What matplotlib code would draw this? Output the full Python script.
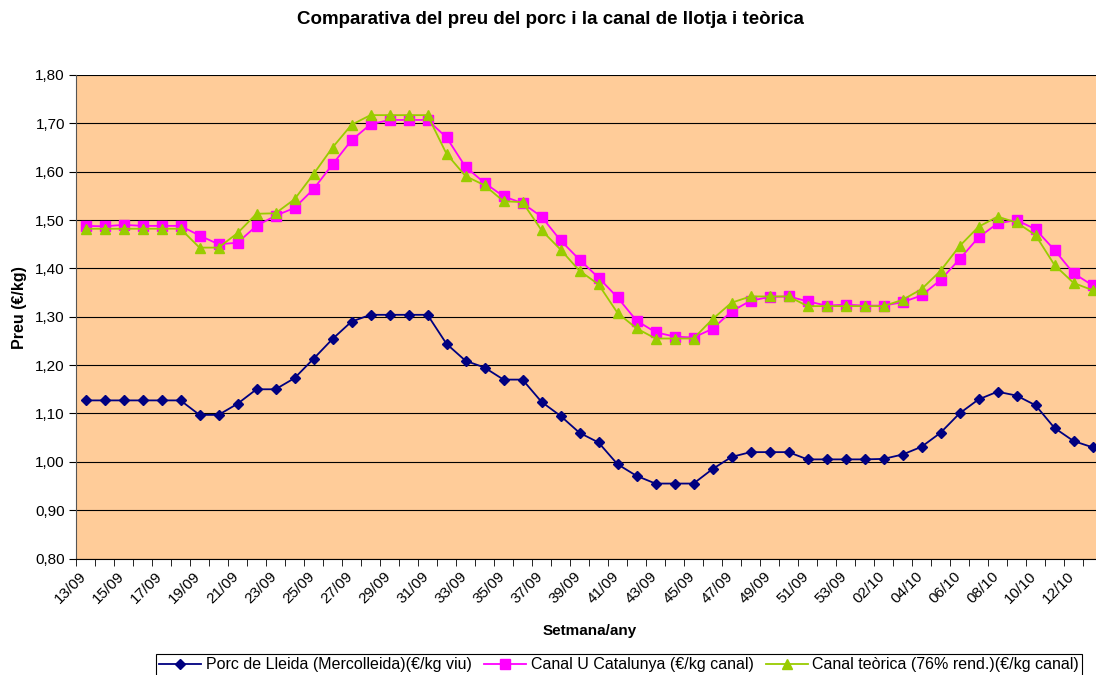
import numpy as np
import matplotlib
matplotlib.use("Agg")
from matplotlib import pyplot as plt
from matplotlib.ticker import FuncFormatter
from matplotlib.transforms import ScaledTranslation

plt.rcParams['font.family'] = ['Liberation Sans', 'DejaVu Sans']

# setmanes 13/09 .. 53/09 i 01/10 .. 13/10
weeks = [f"{w:02d}/09" for w in range(13, 54)] + [f"{w:02d}/10" for w in range(1, 14)]

porc_lleida = [1.127, 1.127, 1.127, 1.127, 1.127, 1.127, 1.097, 1.097, 1.120, 1.150,
               1.150, 1.173, 1.213, 1.254, 1.290, 1.304, 1.304, 1.304, 1.304, 1.244,
               1.209, 1.195, 1.170, 1.170, 1.124, 1.095, 1.060, 1.040, 0.995, 0.971,
               0.955, 0.955, 0.955, 0.985, 1.010, 1.020, 1.020, 1.020, 1.005, 1.005,
               1.005, 1.005, 1.006, 1.015, 1.031, 1.060, 1.100, 1.129, 1.145, 1.137,
               1.117, 1.070, 1.043, 1.030]

canal_cat = [1.488, 1.487, 1.490, 1.488, 1.488, 1.488, 1.468, 1.450, 1.453, 1.488,
             1.509, 1.525, 1.564, 1.615, 1.665, 1.698, 1.707, 1.707, 1.707, 1.671,
             1.610, 1.577, 1.549, 1.535, 1.507, 1.458, 1.418, 1.381, 1.340, 1.292,
             1.268, 1.259, 1.257, 1.275, 1.311, 1.333, 1.341, 1.342, 1.332, 1.323,
             1.325, 1.323, 1.323, 1.330, 1.344, 1.376, 1.419, 1.464, 1.493, 1.500,
             1.481, 1.438, 1.390, 1.365]

canal_teo = [1.482, 1.482, 1.482, 1.482, 1.482, 1.482, 1.443, 1.443, 1.473, 1.513,
             1.514, 1.543, 1.595, 1.650, 1.697, 1.717, 1.717, 1.717, 1.717, 1.637,
             1.591, 1.572, 1.539, 1.537, 1.479, 1.439, 1.395, 1.367, 1.308, 1.276,
             1.255, 1.255, 1.255, 1.295, 1.329, 1.342, 1.342, 1.342, 1.322, 1.322,
             1.322, 1.322, 1.322, 1.335, 1.357, 1.395, 1.446, 1.486, 1.507, 1.495,
             1.469, 1.407, 1.370, 1.355]

x = np.arange(len(weeks))

fig = plt.figure(figsize=(10.96, 6.75), dpi=100)
ax = fig.add_axes([76 / 1096, 116.5 / 675, 1026 / 1096, 483.5 / 675])
ax.set_facecolor('#FFCC99')

ax.plot(x, porc_lleida, color='#000080', marker='D', markersize=5.5, lw=1.3,
        label='Porc de Lleida (Mercolleida)(€/kg viu)', zorder=3)
ax.plot(x, canal_cat, color='#FF00FF', marker='s', markersize=7, lw=1.3,
        label='Canal U Catalunya (€/kg canal)', zorder=3)
ax.plot(x, canal_teo, color='#99CC00', marker='^', markersize=7.5, lw=1.3,
        label='Canal teòrica (76% rend.)(€/kg canal)', zorder=3)

ax.set_xlim(-0.5, len(weeks) - 0.5)
ax.set_ylim(0.8, 1.8)
ax.set_yticks(np.arange(0.8, 1.81, 0.1))
ax.yaxis.set_major_formatter(FuncFormatter(lambda v, p: f"{v:.2f}".replace('.', ',')))
ax.yaxis.grid(True, color='black', lw=0.8)
ax.set_axisbelow(True)

ax.set_xticks(x[::2])
ax.set_xticklabels(weeks[::2], rotation=45, ha='right', rotation_mode='anchor')
ax.set_xticks(np.arange(-0.5, len(weeks), 1), minor=True)
ax.tick_params(axis='x', which='major', length=0, pad=8, labelsize=11)
ax.tick_params(axis='x', which='minor', length=5, color='black')
ax.tick_params(axis='y', length=5, labelsize=11, pad=3)
# les etiquetes una mica a l'esquerra, com a l'original
shift = ScaledTranslation(-6 / 100, 0, fig.dpi_scale_trans)
for lab in ax.get_xticklabels():
    lab.set_transform(lab.get_transform() + shift)

for s in ['top', 'right']:
    ax.spines[s].set_visible(False)
ax.spines['left'].set_color('#555555')
ax.spines['bottom'].set_color('black')

ax.set_ylabel('Preu (€/kg)', fontsize=11.5, fontweight='bold')
ax.yaxis.set_label_coords(-49 / 1026, 0.52)
ax.set_xlabel('Setmana/any', fontsize=11, fontweight='bold')
ax.xaxis.set_label_coords(0.501, -65 / 483.5)

fig.text(0.502, 1 - 20 / 675, 'Comparativa del preu del porc i la canal de llotja i teòrica',
         ha='center', va='center', fontsize=13.5, fontweight='bold')

leg = fig.legend(loc='center', bbox_to_anchor=(0.565, 1 - 665 / 675), ncol=3,
                 fancybox=False, edgecolor='black', fontsize=11.5, handlelength=2.6,
                 columnspacing=0.8, handletextpad=0.3, borderpad=0.2, framealpha=1)
leg.get_frame().set_linewidth(0.8)

fig.savefig('out.png', dpi=100)
